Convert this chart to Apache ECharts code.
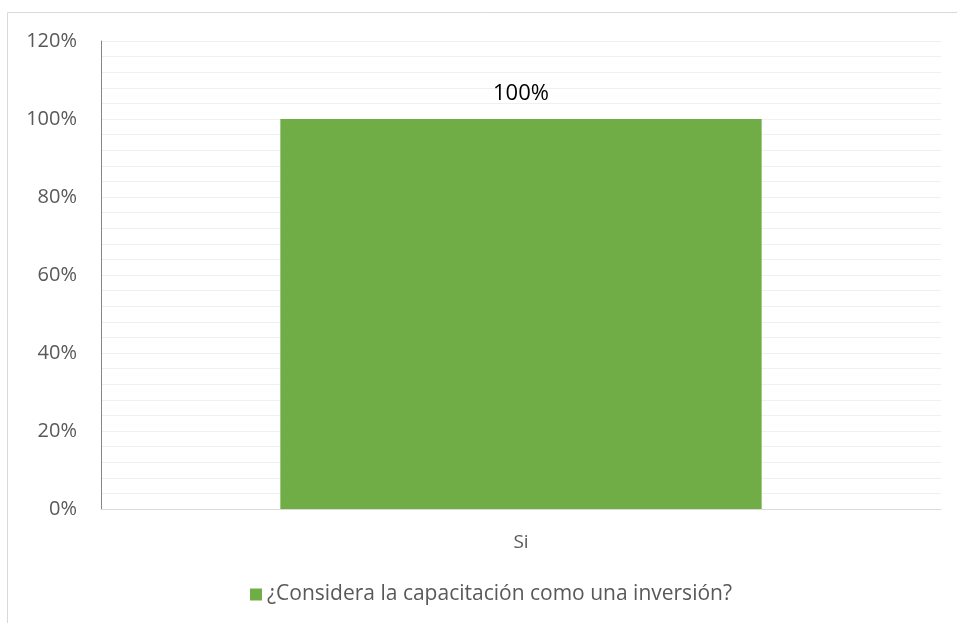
<!DOCTYPE html>
<html>
<head>
<meta charset="utf-8">
<style>
  html, body { margin: 0; padding: 0; background: #ffffff; }
  #chart { width: 957px; height: 623px; }
</style>
<script src="https://cdn.jsdelivr.net/npm/echarts@6/dist/echarts.min.js"></script>
</head>
<body>
<div id="chart"></div>
<script>
// Survey answer categories and their share of responses (percent)
const categories = ['Si'];
const seriesName = '¿Considera la capacitación como una inversión?';
const values = [100];
// Value axis range and step (percent)
const axisMin = 0;
const axisMax = 120;
const axisStep = 20;

const FONT = '"Open Sans", "Liberation Sans", Arial, sans-serif';
const chart = echarts.init(document.getElementById('chart'), null, { renderer: 'canvas' });

chart.setOption({
  animation: false,
  backgroundColor: '#ffffff',
  textStyle: { fontFamily: FONT },
  graphic: [{
    type: 'rect',
    x: 0, y: 0,
    shape: { x: 7.5, y: 12.5, width: 980, height: 640 },
    style: { fill: 'none', stroke: '#d9d9d9', lineWidth: 1 },
    silent: true,
    z: -1
  }],
  grid: { left: 101, right: 16, top: 41, bottom: 114, containLabel: false },
  legend: {
    bottom: 13,
    left: 245,
    itemWidth: 12,
    itemHeight: 12,
    itemGap: 6,
    icon: 'rect',
    textStyle: { color: '#595959', fontSize: 21, fontFamily: FONT },
    data: [seriesName]
  },
  xAxis: {
    type: 'category',
    data: categories,
    axisLine: { show: true, lineStyle: { color: '#d9d9d9', width: 1 } },
    axisTick: { show: false },
    axisLabel: { color: '#595959', fontSize: 19, margin: 24, fontFamily: FONT }
  },
  yAxis: {
    type: 'value',
    min: axisMin,
    max: axisMax,
    interval: axisStep,
    axisLine: { show: true, lineStyle: { color: '#868686', width: 1 } },
    axisTick: { show: false },
    axisLabel: { color: '#595959', fontSize: 20, margin: 24, fontFamily: FONT, formatter: v => v + '%' },
    splitLine: { show: true, lineStyle: { color: '#f0f0f0', width: 1 } },
    minorTick: { show: false, splitNumber: 5 },
    minorSplitLine: { show: true, lineStyle: { color: '#f0f0f0', width: 1 } }
  },
  series: [{
    name: seriesName,
    type: 'bar',
    data: values,
    barWidth: '57.3%',
    itemStyle: { color: '#70ad47' },
    label: {
      show: true,
      position: 'top',
      distance: 14,
      color: '#000000',
      fontSize: 22,
      fontFamily: FONT,
      formatter: p => p.value + '%'
    }
  }]
});
</script>
</body>
</html>
